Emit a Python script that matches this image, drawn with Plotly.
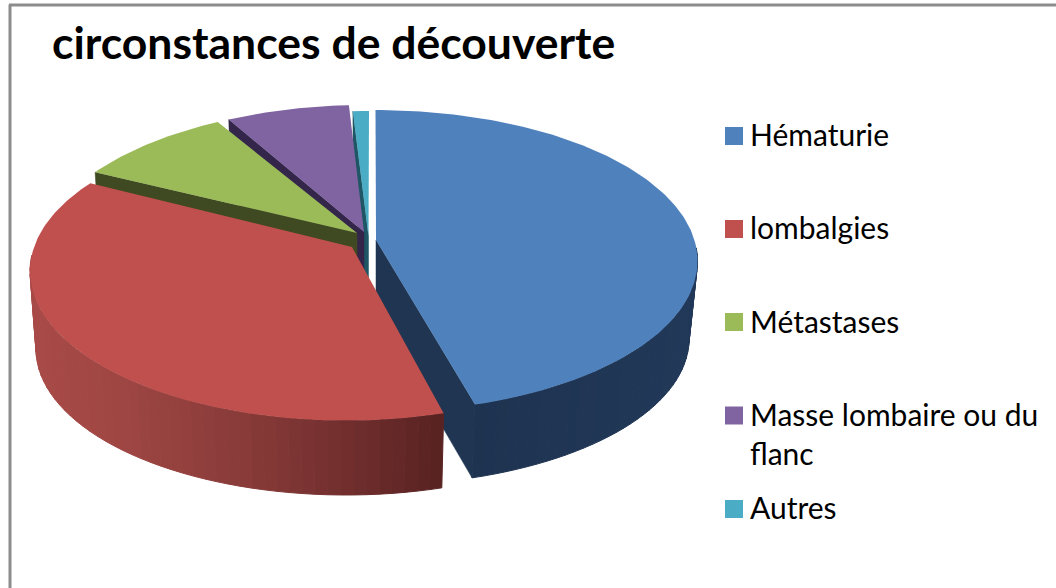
import math
import plotly.graph_objects as go

# ---- data ----
categories = ["Hématurie", "lombalgies", "Métastases", "Masse lombaire ou du<br>flanc", "Autres"]
values = [45, 40, 8, 6.2, 0.8]
title_text = "circonstances de découverte"

# ---- styles ----
top_colors = ["#4F81BD", "#C0504D", "#9BBB59", "#8064A2", "#4BACC6"]
inner_colors = ["#1F3552", "#5C2423", "#404A22", "#33264A", "#1F5665"]
# wall shade stops (x pixel, colour) for the outer walls
wall_stops = {
    0: [(470, (30, 51, 80)), (690, (33, 56, 88))],
    1: [(36, (168, 74, 71)), (120, (158, 70, 67)), (250, (135, 58, 56)), (350, (112, 46, 45)), (442, (88, 34, 33))],
}
# per-slice geometry of the exploded, tilted pie (pixel-like axes)
geom = [
    dict(cx=375.5, cy=261, a=322, b=151, ax=376, ay=240, bcx=375, bcy=339, ba=314, bb=146, depth=73),
    dict(cx=346, cy=271, a=316, b=149.5, ax=352, ay=247, bcx=346, bcy=349, ba=310, bb=146, depth=73),
    dict(cx=354, cy=265, a=320, b=158, ax=357, ay=233, bcx=354, bcy=340, ba=314, bb=150, depth=73),
    dict(cx=365, cy=258, a=320, b=153, ax=364, ay=232, bcx=365, bcy=333, ba=314, bb=148, depth=73),
    dict(cx=369, cy=261, a=320, b=150, ax=368.5, ay=236, bcx=369, bcy=336, ba=314, bb=146, depth=73),
]
legend_y = [136, 229, 322, 415.5, 509]
legend_text_y = [134, 227, 321, 433.5, 507]

total = sum(values)
spans = []
acc = 0.0
for v in values:
    spans.append((acc, acc + v / total * 360))
    acc += v / total * 360


def rim(g, deg):
    t = math.radians(deg)
    return g["cx"] + g["a"] * math.sin(t), g["cy"] - g["b"] * math.cos(t)


def low(g, deg):
    t = math.radians(deg)
    return g["bcx"] + g["ba"] * math.sin(t), g["bcy"] - g["bb"] * math.cos(t)


def arc(start, end, step=1.0):
    n = max(2, int(abs(end - start) / step) + 1)
    return [start + (end - start) * i / (n - 1) for i in range(n)]


def shade(stops, x):
    if x <= stops[0][0]:
        c = stops[0][1]
    elif x >= stops[-1][0]:
        c = stops[-1][1]
    else:
        for (x0, c0), (x1, c1) in zip(stops, stops[1:]):
            if x0 <= x <= x1:
                f = (x - x0) / (x1 - x0)
                c = tuple(c0[k] + (c1[k] - c0[k]) * f for k in range(3))
                break
    return "#%02X%02X%02X" % tuple(int(round(v)) for v in c)


fig = go.Figure()


def poly(xs, ys, color, line=0.0):
    fig.add_trace(go.Scatter(
        x=xs, y=ys, mode="lines", fill="toself", fillcolor=color,
        line=dict(color=color, width=line), hoverinfo="skip", showlegend=False,
    ))


def inner_wall(i, deg):
    g = geom[i]
    rx, ry = rim(g, deg)
    lx, ly = low(g, deg)
    poly([g["ax"], rx, lx, g["ax"], g["ax"]],
         [g["ay"], ry, ly, g["ay"] + g["depth"], g["ay"]], inner_colors[i], 0.5)


def outer_wall(i, start, end, strips):
    g = geom[i]
    for k in range(strips):
        d0 = start + (end - start) * k / strips
        d1 = start + (end - start) * (k + 1) / strips
        angs = arc(d0, d1, 0.5)
        top = [rim(g, d) for d in angs]
        bot = [low(g, d) for d in reversed(angs)]
        pts = top + bot + [top[0]]
        xm = sum(p[0] for p in top) / len(top)
        poly([p[0] for p in pts], [p[1] for p in pts], shade(wall_stops[i], xm), 1)


def top_face(i):
    g = geom[i]
    s, e = spans[i]
    pts = [rim(g, d) for d in arc(s, e)]
    xs = [g["ax"]] + [p[0] for p in pts] + [g["ax"]]
    ys = [g["ay"]] + [p[1] for p in pts] + [g["ay"]]
    poly(xs, ys, top_colors[i], 0)


# Blue slice (exploded, rear-most of what overlaps)
outer_wall(0, 85, spans[0][1], 36)
inner_wall(0, spans[0][1])
top_face(0)
# Autres
inner_wall(4, spans[4][0])
top_face(4)
# Masse lombaire
inner_wall(3, spans[3][0])
top_face(3)
# Métastases
inner_wall(2, spans[2][0])
top_face(2)
# lombalgies
outer_wall(1, spans[1][0], 276, 48)
top_face(1)

# legend swatches
for i, name in enumerate(categories):
    fig.add_trace(go.Scatter(
        x=[734], y=[legend_y[i]], mode="markers",
        marker=dict(symbol="square", size=18, color=top_colors[i], line=dict(width=0)),
        hoverinfo="skip", showlegend=False,
    ))
    fig.add_annotation(
        x=748, y=legend_text_y[i], xref="x", yref="y", text=name, showarrow=False,
        xanchor="left", yanchor="middle", align="left",
        font=dict(family="Lato", size=30, color="#000000"),
    )

fig.add_annotation(
    x=50, y=41, xref="x", yref="y", text="<b>%s</b>" % title_text, showarrow=False,
    xanchor="left", yanchor="middle", font=dict(family="Lato", size=44.5, color="#000000"),
)

# frame
fig.add_shape(type="line", x0=10, x1=10, y0=4.5, y1=588, xref="x", yref="y",
              line=dict(color="#8C8C8C", width=3), layer="below")
fig.add_shape(type="line", x0=9, x1=1056, y0=5, y1=5, xref="x", yref="y",
              line=dict(color="#8C8C8C", width=3), layer="below")

fig.update_layout(
    width=1056, height=588, autosize=False,
    margin=dict(l=0, r=0, t=0, b=0),
    paper_bgcolor="#FFFFFF", plot_bgcolor="#FFFFFF",
    xaxis=dict(range=[0, 1056], visible=False, fixedrange=True),
    yaxis=dict(range=[588, 0], visible=False, fixedrange=True),
    showlegend=False,
)
fig.write_html(
    "out.html", config=dict(displayModeBar=False),
    post_script="document.body.style.margin='0';document.body.style.overflow='hidden';",
)
